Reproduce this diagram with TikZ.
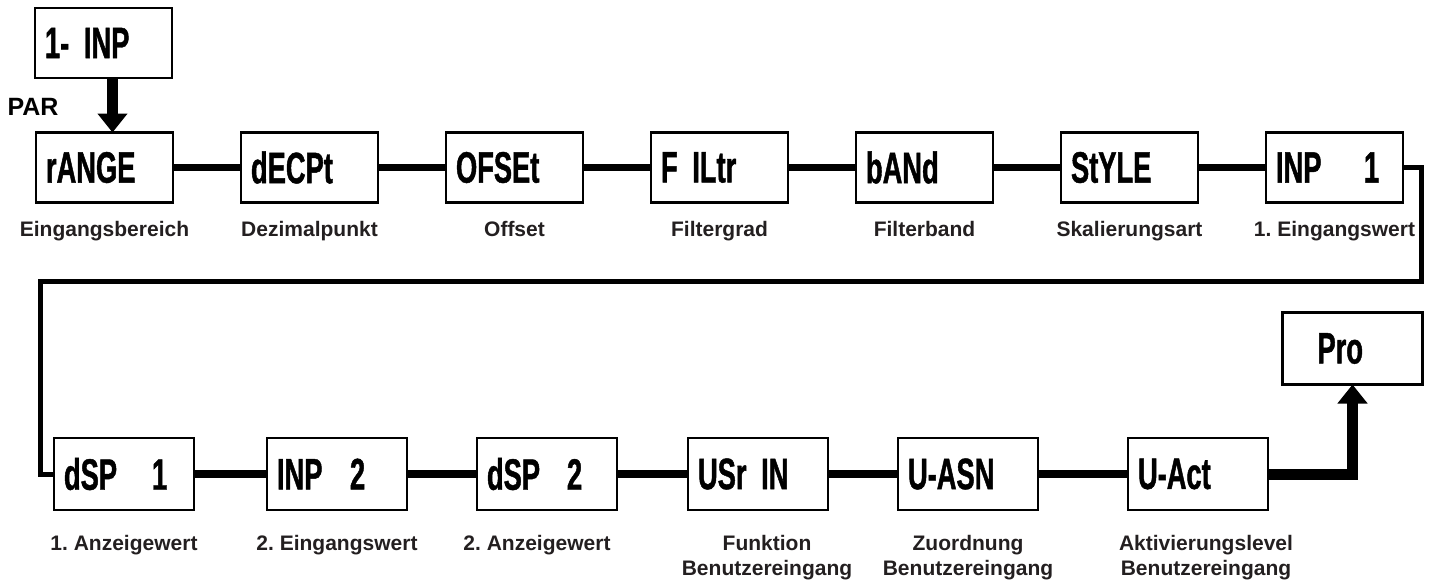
\documentclass[tikz,border=0pt]{standalone}
\usepackage{fontspec}
\setmainfont{Liberation Sans}
\newfontfamily\lcdfont{Liberation Sans}[FakeStretch=0.62,FakeBold=1]
\usetikzlibrary{positioning,arrows.meta}
\definecolor{labelgray}{RGB}{35,31,32}
\begin{document}
\begin{tikzpicture}
		[x=0.5pt,y=-0.5pt,
		disp/.style={draw,line width=1.1pt,outer sep=0pt,
			minimum width=68.5pt,minimum height=35pt,
			text width=58.5pt,inner xsep=5pt,align=left,
			font=\lcdfont\bfseries\fontsize{22pt}{22pt}\selectfont},
		wide/.style={disp,minimum width=70pt,minimum height=36pt,
			text width=60pt},
		lbl/.style={inner sep=0pt,align=center,text=labelgray,
			font=\bfseries\fontsize{10.5pt}{12.3pt}\selectfont},
		link/.style={line width=3.7pt},
		ret/.style={line width=2.5pt},
		flow/.style={line width=5.5pt,-{Triangle[length=9.5pt,width=14.5pt]}},
		]
		\useasboundingbox (0,0) rectangle (1430,579);
		\node[disp] (top) at (103.5,43) {1- INP};
		\node[font=\bfseries\fontsize{12.5pt}{12.5pt}\selectfont] (par) at (33,107) {PAR};
		\node[disp] (rng) at (104.5,167.5) {rANGE};
		\node[disp,right=34pt of rng] (dec) {dECPt};
		\node[disp,right=34pt of dec] (ofs) {OFSEt};
		\node[disp,right=34pt of ofs] (flt) {F ILtr};
		\node[disp,right=34pt of flt] (band) {bANd};
		\node[disp,right=34pt of band] (sty) {StYLE};
		\node[disp,right=34pt of sty] (inpa) {\makebox[44pt][l]{INP}1};
		
		\node[lbl,below=9pt of rng] (l-rng) {Eingangsbereich};
		\node[lbl,below=9pt of dec] (l-dec) {Dezimalpunkt};
		\node[lbl,below=9pt of ofs] (l-ofs) {Offset};
		\node[lbl,below=9pt of flt] (l-flt) {Filtergrad};
		\node[lbl,below=9pt of band] (l-band) {Filterband};
		\node[lbl,below=9pt of sty] (l-sty) {Skalierungsart};
		\node[lbl,below=9pt of inpa] (l-inpa) {1.\ Eingangswert};
		
		\node[wide] (dspa) at (124,474) {\makebox[44pt][l]{dSP}1};
		\node[wide,right=36.5pt of dspa] (inpb) {\makebox[36.5pt][l]{INP}2};
		\node[wide,right=35pt of inpb] (dspb) {\makebox[40pt][l]{dSP}2};
		\node[wide,right=35.5pt of dspb] (usr) {USr IN};
		\node[wide,right=35pt of usr] (uasn) {U-ASN};
		\node[wide,right=45pt of uasn] (uact) {U-Act};
		\node[wide] (pro) at (1352.5,348.5) {\hspace{12.5pt}Pro};
		
		\node[lbl,below=12.5pt of dspa] (l-dspa) {1.\ Anzeigewert};
		\node[lbl,below=12.5pt of inpb] (l-inpb) {2.\ Eingangswert};
		\node[lbl,below=12.5pt of dspb,xshift=-5pt] (l-dspb) {2.\ Anzeigewert};
		\node[lbl,below=12.5pt of usr,xshift=4.5pt] (l-usr) {Funktion\\Benutzereingang};
		\node[lbl,below=12.5pt of uasn] (l-uasn) {Zuordnung\\Benutzereingang};
		\node[lbl,below=12.5pt of uact,xshift=4pt] (l-uact) {Aktivierungslevel\\Benutzereingang};
		
		\coordinate (turnR) at (1421,281);
		\coordinate (turnL) at (40,281);
		
		\draw[flow] ([xshift=4.5pt]top.south) -- ([xshift=4pt]rng.north);
		\draw[link] (rng) -- (dec);
		\draw[link] (dec) -- (ofs);
		\draw[link] (ofs) -- (flt);
		\draw[link] (flt) -- (band);
		\draw[link] (band) -- (sty);
		\draw[link] (sty) -- (inpa);
		\draw[ret] (inpa.east) -| (turnR) -- (turnL) |- (dspa.west);
		\draw[link] (dspa) -- (inpb);
		\draw[link] (inpb) -- (dspb);
		\draw[link] (dspb) -- (usr);
		\draw[link] (usr) -- (uasn);
		\draw[link] (uasn) -- (uact);
		\draw[flow] (uact.east) -| (pro.south);
	\end{tikzpicture}
\end{document}
